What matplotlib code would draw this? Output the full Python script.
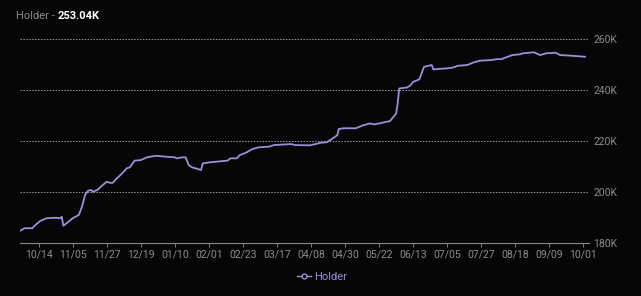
import matplotlib
matplotlib.use("Agg")
import matplotlib.pyplot as plt
import matplotlib.dates as mdates
from matplotlib.lines import Line2D
import pandas as pd

# данные (тыс. холдеров)
dates = [
    "2022-10-02", "2022-10-05", "2022-10-10", "2022-10-12", "2022-10-15", "2022-10-19",
    "2022-10-25", "2022-10-28", "2022-10-29", "2022-10-30", "2022-11-01", "2022-11-05",
    "2022-11-09", "2022-11-11", "2022-11-13", "2022-11-15", "2022-11-17", "2022-11-18",
    "2022-11-21", "2022-11-24", "2022-11-27", "2022-11-29", "2022-12-01", "2022-12-03",
    "2022-12-07", "2022-12-10", "2022-12-12", "2022-12-15", "2022-12-19", "2022-12-23",
    "2022-12-29", "2023-01-05", "2023-01-10", "2023-01-11", "2023-01-15", "2023-01-17",
    "2023-01-19", "2023-01-21", "2023-01-25", "2023-01-27", "2023-01-28", "2023-02-01",
    "2023-02-06", "2023-02-13", "2023-02-15", "2023-02-19", "2023-02-21", "2023-02-25",
    "2023-03-01", "2023-03-05", "2023-03-12", "2023-03-15", "2023-03-26", "2023-03-29",
    "2023-04-07", "2023-04-11", "2023-04-14", "2023-04-18", "2023-04-22", "2023-04-25",
    "2023-04-26", "2023-04-29", "2023-05-07", "2023-05-11", "2023-05-16", "2023-05-19",
    "2023-05-25", "2023-05-29", "2023-05-31", "2023-06-02", "2023-06-03", "2023-06-04",
    "2023-06-09", "2023-06-11", "2023-06-13", "2023-06-16", "2023-06-17", "2023-06-20",
    "2023-06-25", "2023-06-26", "2023-07-05", "2023-07-08", "2023-07-12", "2023-07-18",
    "2023-07-22", "2023-07-26", "2023-08-02", "2023-08-06", "2023-08-09", "2023-08-12",
    "2023-08-16", "2023-08-21", "2023-08-23", "2023-08-30", "2023-09-03", "2023-09-07",
    "2023-09-13", "2023-09-16", "2023-09-22", "2023-10-02",
]
holders = [
    184.8, 185.8, 185.8, 187.1, 188.6, 189.7,
    189.9, 189.7, 190.3, 186.8, 187.7, 189.7,
    191.0, 194.2, 198.8, 200.5, 200.8, 200.1,
    200.8, 202.5, 204.0, 203.6, 203.6, 205.0,
    207.3, 209.3, 209.7, 212.3, 212.5, 213.6,
    214.2, 213.8, 213.6, 213.2, 213.6, 213.6,
    210.6, 209.7, 209.0, 208.6, 211.2, 211.6,
    211.9, 212.3, 213.2, 213.2, 214.5, 215.4,
    216.8, 217.5, 217.8, 218.4, 218.8, 218.4,
    218.3, 218.8, 219.3, 219.5, 221.0, 222.3,
    224.7, 225.0, 225.0, 226.0, 226.9, 226.5,
    227.3, 227.8, 229.3, 230.8, 234.8, 240.6,
    241.0, 241.7, 243.2, 243.9, 244.2, 249.1,
    249.8, 248.1, 248.5, 248.7, 249.5, 249.8,
    250.8, 251.5, 251.7, 252.1, 252.1, 252.8,
    253.7, 254.0, 254.4, 254.8, 253.7, 254.4,
    254.6, 253.7, 253.5, 253.04,
]
tick_dates = ["2022-10-14", "2022-11-05", "2022-11-27", "2022-12-19", "2023-01-10",
              "2023-02-01", "2023-02-23", "2023-03-17", "2023-04-08", "2023-04-30",
              "2023-05-22", "2023-06-13", "2023-07-05", "2023-07-27", "2023-08-18",
              "2023-09-09", "2023-10-01"]
y_ticks = [180, 200, 220, 240, 260]

x = pd.to_datetime(dates)
ticks = pd.to_datetime(tick_dates)

bg = "#060607"
line_c = "#9890d8"
txt_c = "#8c8c8c"
plt.rcParams['font.family'] = ['Roboto', 'DejaVu Sans']

fig = plt.figure(figsize=(6.41, 2.96), dpi=100, facecolor=bg)
ax = fig.add_axes([20/641, 1-243/296, (589-20)/641, (243-39)/296], facecolor=bg)

ax.plot(x, holders, color=line_c, lw=1.3)

ax.set_ylim(180, 260)
ax.set_xlim(pd.Timestamp("2022-10-02"), pd.Timestamp("2023-10-04 14:00"))
ax.set_yticks(y_ticks)
ax.set_yticklabels([f"{v}K" for v in y_ticks])
ax.yaxis.tick_right()
ax.set_xticks(ticks)
ax.xaxis.set_major_formatter(mdates.DateFormatter("%m/%d"))

ax.grid(axis='y', color='#9a9a9a', linestyle=(0, (1.5, 1.5)), lw=0.7)
ax.grid(axis='x', visible=False)
for s in ['top', 'left', 'right']:
    ax.spines[s].set_visible(False)
ax.spines['bottom'].set_color('#8a8a8a')
ax.spines['bottom'].set_linewidth(0.8)
ax.tick_params(axis='x', colors=txt_c, labelsize=7.5, length=3, width=0.6, pad=2)
ax.tick_params(axis='y', colors=txt_c, labelsize=7.5, length=0, pad=3.3)

# заголовок
fig.text(16/641, 1-16/296, "Holder - ", color=txt_c, fontsize=8, va='center', ha='left')
fig.text(58/641, 1-16/296, "253.04K", color='white', fontsize=8, va='center', ha='left',
         fontweight='bold')

# легенда
h = Line2D([0], [0], color=line_c, lw=1, marker='o', markersize=3.5,
           markerfacecolor=bg, markeredgecolor=line_c)
leg = fig.legend([h], ["Holder"], loc='center', bbox_to_anchor=(322/641, 1-277/296),
                 frameon=False, fontsize=8, handlelength=1.2, handletextpad=0.3)
for t in leg.get_texts():
    t.set_color(line_c)

plt.savefig("out.png", dpi=100, facecolor=bg)
